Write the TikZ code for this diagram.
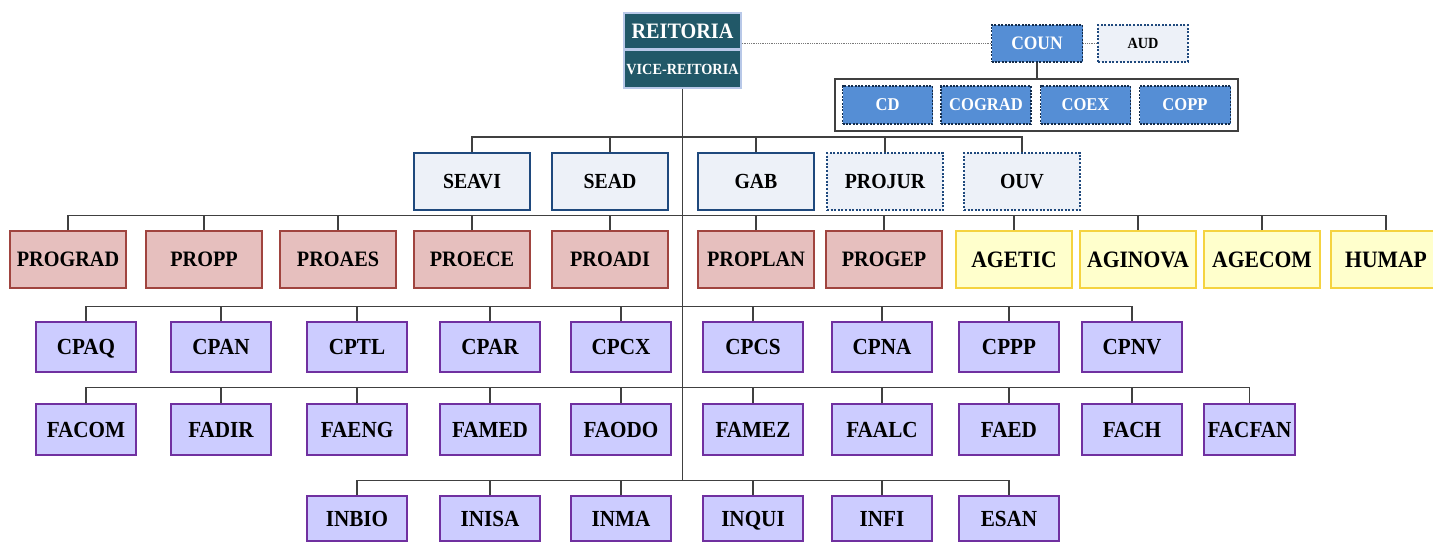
\documentclass[tikz,border=0pt]{standalone}
\usepackage{fontspec}
\setmainfont{Liberation Serif}[FakeStretch=0.92]
\definecolor{reitFill}{HTML}{215868}
\definecolor{reitLine}{HTML}{B8C8E8}
\definecolor{counFill}{HTML}{558ED5}
\definecolor{lightFill}{HTML}{EDF1F8}
\definecolor{blueLine}{HTML}{1F497D}
\definecolor{proFill}{HTML}{E6BFBE}
\definecolor{proLine}{HTML}{A0443F}
\definecolor{yelFill}{HTML}{FFFFCC}
\definecolor{yelLine}{HTML}{F5D340}
\definecolor{purFill}{HTML}{CCCCFF}
\definecolor{purLine}{HTML}{7030A0}
\definecolor{conn}{HTML}{404040}
\tikzset{
  box/.style={rectangle, inner sep=0pt, text depth=0pt, align=center, font=\bfseries\fontsize{22}{23}\selectfont},
  reitbox/.style={box, fill=reitFill, draw=reitLine, line width=1.5pt, text=white, minimum width=117pt},
  counbox/.style={box, fill=counFill, draw=blueLine!60!black, line width=1.8pt, dash pattern=on 2pt off 1.4pt, text=white, minimum height=38pt, font=\bfseries\fontsize{18}{19}\selectfont},
  audbox/.style={box, fill=lightFill, draw=blueLine, line width=1.6pt, dash pattern=on 2pt off 1.6pt, minimum width=90pt, minimum height=37pt, font=\bfseries\fontsize{15.5}{16}\selectfont},
  contbox/.style={rectangle, draw=black!75, fill=white, line width=1.2pt, minimum width=403pt, minimum height=52pt, inner sep=0pt},
  seabox/.style={box, fill=lightFill, draw=blueLine, line width=2pt, minimum width=116pt, minimum height=57pt, font=\bfseries\fontsize{21.5}{22}\selectfont},
  seadot/.style={seabox, dash pattern=on 2pt off 1.6pt, line width=1.8pt},
  probox/.style={box, fill=proFill, draw=proLine, line width=1.6pt, minimum width=116pt, minimum height=57pt},
  yelbox/.style={box, fill=yelFill, draw=yelLine, line width=1.6pt, minimum width=116pt, minimum height=57pt, font=\bfseries\fontsize{23.5}{24}\selectfont},
  purbox/.style={box, fill=purFill, draw=purLine, line width=1.6pt, minimum width=100pt, font=\bfseries\fontsize{23}{24}\selectfont},
  wire/.style={draw=conn, line width=1.3pt},
  dotwire/.style={draw=conn!70, line width=1.2pt, dash pattern=on 1pt off 0.8pt},
}
\begin{document}
\begin{tikzpicture}[x=1pt,y=-1pt]
\useasboundingbox (0,0) rectangle (1433,543);
% top
\node[reitbox, minimum height=36pt] (reit) at (682.5,31) {REITORIA};
\node[reitbox, minimum height=38pt, font=\bfseries\fontsize{15.5}{16}\selectfont] (vice) at (682.5,69) {VICE-REITORIA};
\node[counbox, minimum width=91pt, minimum height=37pt, font=\bfseries\fontsize{19}{20}\selectfont] (coun) at (1037,43.5) {COUN};
\node[audbox] (aud) at (1143,43.5) {AUD};
\node[contbox] (cont) at (1036.5,105) {};
\node[counbox, minimum width=90pt] (cd) at (887.5,105) {CD};
\node[counbox, minimum width=90pt] (cograd) at (986,105) {COGRAD};
\node[counbox, minimum width=90pt] (coex) at (1085.5,105) {COEX};
\node[counbox, minimum width=91pt] (copp) at (1185,105) {COPP};
\draw[dotwire] (reit.east |- coun.west) -- (coun.west);
\draw[dotwire] (coun.east) -- (aud.west);
\draw[wire] (coun.south) -- (coun.south |- cont.north);
% level 1
\node[seabox] (seavi) at (472,181.5) {SEAVI};
\node[seabox] (sead) at (610,181.5) {SEAD};
\node[seabox] (gab) at (756,181.5) {GAB};
\node[seadot] (projur) at (885,181.5) {PROJUR};
\node[seadot] (ouv) at (1022,181.5) {OUV};
% level 2
\node[probox] (prograd) at (68,259.5) {PROGRAD};
\node[probox] (propp) at (204,259.5) {PROPP};
\node[probox] (proaes) at (338,259.5) {PROAES};
\node[probox] (proece) at (472,259.5) {PROECE};
\node[probox] (proadi) at (610,259.5) {PROADI};
\node[probox] (proplan) at (756,259.5) {PROPLAN};
\node[probox] (progep) at (884,259.5) {PROGEP};
\node[yelbox] (agetic) at (1014,259.5) {AGETIC};
\node[yelbox] (aginova) at (1138,259.5) {AGINOVA};
\node[yelbox] (agecom) at (1262,259.5) {AGECOM};
\node[yelbox, minimum width=110pt] (humap) at (1386,259.5) {HUMAP};
% level 3
\foreach \n/\t/\x in {cpaq/CPAQ/86, cpan/CPAN/221, cptl/CPTL/357, cpar/CPAR/490, cpcx/CPCX/621, cpcs/CPCS/753, cpna/CPNA/882, cppp/CPPP/1009, cpnv/CPNV/1132}
  \node[purbox, minimum height=50pt] (\n) at (\x,347) {\t};
% level 4
\foreach \n/\t/\x in {facom/FACOM/86, fadir/FADIR/221, faeng/FAENG/357, famed/FAMED/490, faodo/FAODO/621, famez/FAMEZ/753, faalc/FAALC/882, faed/FAED/1009, fach/FACH/1132}
  \node[purbox, minimum height=51pt] (\n) at (\x,429.5) {\t};
\node[purbox, minimum height=51pt, minimum width=91pt] (facfan) at (1249.5,429.5) {FACFAN};
% level 5
\foreach \n/\t/\x in {inbio/INBIO/357, inisa/INISA/490, inma/INMA/621, inqui/INQUI/753, infi/INFI/882, esan/ESAN/1009}
  \node[purbox, minimum height=45pt] (\n) at (\x,518.5) {\t};
% trunk
\draw[wire] (vice.south) -- (vice.south |- 0,481);
% buses
\draw[wire] (seavi.north) -- ++(0,-15) -| (ouv.north);
\foreach \n in {sead,gab,projur} \draw[wire] (\n.north) -- ++(0,-15);
\draw[wire] (prograd.north) -- ++(0,-15) -| (humap.north);
\foreach \n in {propp,proaes,proece,proadi,proplan,progep,agetic,aginova,agecom} \draw[wire] (\n.north) -- ++(0,-15);
\draw[wire] (cpaq.north) -- ++(0,-15) -| (cpnv.north);
\foreach \n in {cpan,cptl,cpar,cpcx,cpcs,cpna,cppp} \draw[wire] (\n.north) -- ++(0,-15);
\draw[wire] (facom.north) -- ++(0,-16) -| (facfan.north);
\foreach \n in {fadir,faeng,famed,faodo,famez,faalc,faed,fach} \draw[wire] (\n.north) -- ++(0,-16);
\draw[wire] (inbio.north) -- ++(0,-15) -| (esan.north);
\foreach \n in {inisa,inma,inqui,infi} \draw[wire] (\n.north) -- ++(0,-15);
\end{tikzpicture}
\end{document}
